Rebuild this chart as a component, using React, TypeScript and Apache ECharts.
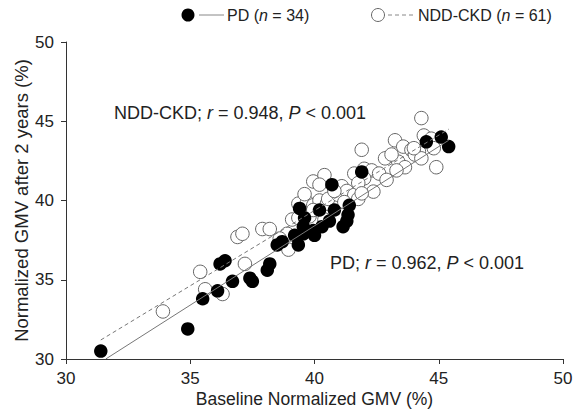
import React, { useEffect, useRef } from "react";
import * as echarts from "echarts";

// PD group (filled circles)
const pdBaseline = [31.4, 34.9, 35.5, 36.1, 36.7, 36.2, 36.4, 37.4, 37.5, 38.2, 38.1, 38.5, 38.7, 39.2, 39.35, 39.4, 39.6, 39.55, 39.55, 39.95, 40.0, 40.3, 40.2, 40.6, 40.8, 40.7, 41.4, 41.35, 41.3, 41.15, 41.9, 44.5, 45.1, 45.4];
const pdFollowUp = [30.5, 31.9, 33.8, 34.3, 34.9, 36.0, 36.2, 35.1, 34.9, 36.0, 35.6, 37.2, 37.4, 37.8, 37.2, 39.5, 38.9, 38.35, 37.9, 38.1, 37.8, 38.35, 39.4, 38.7, 39.4, 41.0, 39.7, 39.1, 38.7, 38.35, 41.8, 43.7, 44.0, 43.4];

// NDD-CKD group (open circles)
const nddBaseline = [33.9, 35.4, 35.6, 36.3, 37.2, 36.9, 37.1, 37.9, 38.2, 38.9, 38.95, 39.1, 39.35, 39.35, 39.7, 39.95, 40.2, 40.5, 39.8, 39.95, 40.4, 39.95, 40.4, 40.55, 40.96, 41.1, 41.3, 41.6, 41.76, 41.6, 42.0, 42.3, 42.6, 42.0, 41.76, 42.37, 41.9, 41.9, 42.84, 43.37, 43.64, 43.3, 43.24, 43.57, 43.9, 44.2, 44.04, 44.3, 44.9, 44.3, 44.4, 44.7, 44.8, 38.6, 39.6, 40.8, 41.2, 42.9, 43.1, 40.2, 44.0];
const nddFollowUp = [33.0, 35.5, 34.4, 34.1, 36.0, 37.7, 37.9, 38.2, 38.2, 37.9, 36.9, 38.8, 38.9, 39.8, 39.9, 39.7, 40.0, 39.8, 39.0, 39.4, 38.8, 41.2, 41.6, 40.1, 40.35, 40.9, 40.6, 40.35, 40.1, 41.7, 42.0, 41.9, 41.7, 41.4, 41.1, 40.56, 40.45, 43.2, 42.66, 42.45, 42.1, 41.9, 43.8, 43.4, 43.2, 43.1, 42.9, 42.66, 42.1, 45.2, 44.1, 43.9, 43.3, 37.6, 40.4, 40.6, 39.9, 41.3, 42.9, 41.0, 43.3];

// Regression lines
const pdFitX = [31.6, 45.4];
const pdFitY = [30.0, 43.8];
const nddFitX = [31.4, 45.4];
const nddFitY = [31.2, 44.5];

const FONT = "'Liberation Sans', Arial, sans-serif";
const TEXT = "#222";

export default function App() {
  const ref = useRef<HTMLDivElement>(null);
  useEffect(() => {
    if (!ref.current) return;
    const chart = echarts.init(ref.current, undefined, { renderer: "svg" });
    const pairs = (xs: number[], ys: number[]) => xs.map((x, i) => [x, ys[i]]);
    const axisCommon = {
      type: "value" as const,
      min: 30,
      max: 50,
      interval: 5,
      splitLine: { show: false },
      axisLine: { show: true, lineStyle: { color: "#333", width: 1 } },
      axisTick: { show: true, length: 5, lineStyle: { color: "#333" } },
      axisLabel: { color: TEXT, fontSize: 17, fontFamily: FONT, margin: 11 },
      nameLocation: "middle" as const,
      nameMoveOverlap: false,
    };
    const rich = (size: number) => ({
      a: { fontSize: size, fontFamily: FONT, fill: TEXT },
      i: { fontSize: size, fontFamily: FONT, fill: TEXT, fontStyle: "italic" },
    });
    chart.setOption({
      animation: false,
      grid: { left: 66, right: 18, top: 42, bottom: 50, containLabel: false, outerBoundsMode: "none" },
      xAxis: {
        ...axisCommon,
        name: "Baseline Normalized GMV (%)",
        nameGap: 30.5,
        nameTextStyle: { color: TEXT, fontSize: 17.5, fontFamily: FONT },
      },
      yAxis: {
        ...axisCommon,
        axisLabel: { color: TEXT, fontSize: 17, fontFamily: FONT, margin: 12 },
        name: "Normalized GMV after 2 years (%)",
        nameGap: 35,
        nameTextStyle: { color: TEXT, fontSize: 18.5, fontFamily: FONT },
      },
      series: [
        {
          type: "scatter",
          data: pairs(nddBaseline, nddFollowUp),
          symbolSize: 13.5,
          itemStyle: { color: "#fff", borderColor: "#666", borderWidth: 1, opacity: 1 },
          z: 2,
        },
        {
          type: "scatter",
          data: pairs(pdBaseline, pdFollowUp),
          symbolSize: 13.5,
          itemStyle: { color: "#000", opacity: 1 },
          z: 3,
        },
        {
          type: "line",
          data: pairs(pdFitX, pdFitY),
          showSymbol: false,
          symbol: "none",
          lineStyle: { color: "#777", width: 1, type: "solid" },
          z: 4,
        },
        {
          type: "line",
          data: pairs(nddFitX, nddFitY),
          showSymbol: false,
          symbol: "none",
          lineStyle: { color: "#777", width: 1, type: [4, 3] },
          z: 4,
        },
      ],
      graphic: [
        { type: "circle", shape: { cx: 188, cy: 15, r: 6.5 }, style: { fill: "#000" } },
        { type: "line", shape: { x1: 199, y1: 15, x2: 224, y2: 15 }, style: { stroke: "#888", lineWidth: 1 } },
        {
          type: "text", x: 227, y: 15,
          style: { text: "{a|PD (}{i|n}{a| = 34)}", verticalAlign: "middle", rich: rich(16) },
        },
        { type: "circle", shape: { cx: 378, cy: 15, r: 6.5 }, style: { fill: "#fff", stroke: "#666", lineWidth: 1 } },
        { type: "line", shape: { x1: 388, y1: 15, x2: 414, y2: 15 }, style: { stroke: "#888", lineWidth: 1, lineDash: [4, 3] } },
        {
          type: "text", x: 418, y: 15,
          style: { text: "{a|NDD-CKD (}{i|n}{a| = 61)}", verticalAlign: "middle", rich: rich(16) },
        },
        {
          type: "text", x: 114, y: 113,
          style: { text: "{a|NDD-CKD; }{i|r}{a| = 0.948, }{i|P}{a| < 0.001}", verticalAlign: "middle", rich: rich(18) },
        },
        {
          type: "text", x: 330, y: 263,
          style: { text: "{a|PD; }{i|r}{a| = 0.962, }{i|P}{a| < 0.001}", verticalAlign: "middle", rich: rich(18) },
        },
      ],
    });
    return () => chart.dispose();
  }, []);
  return (
    <div
      ref={ref}
      style={{ position: "absolute", left: 0, top: 0, width: 581, height: 409, background: "#fff" }}
    />
  );
}
